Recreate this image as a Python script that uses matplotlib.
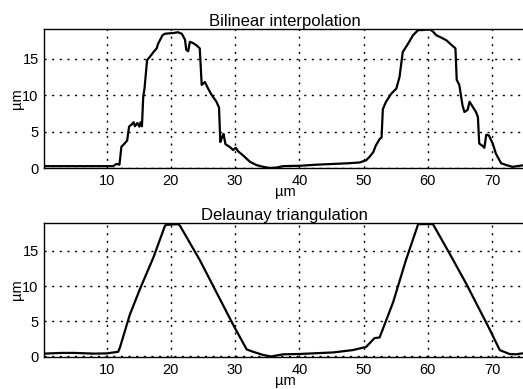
import matplotlib.pyplot as plt

plt.rcParams['font.family'] = ['Liberation Sans', 'DejaVu Sans']

# Bilinear interpolation profile (x in um, height in um)
bil_x = [0.3, 5.0, 11.0, 11.55, 12.0, 12.3, 12.7, 13.2, 13.5, 13.9, 14.2, 14.4, 14.8, 15.1,
         15.3, 15.5, 15.7, 15.9, 16.3, 16.7, 17.3, 17.8, 18.0, 18.7, 19.1, 20.4, 21.1, 21.7,
         22.2, 22.4, 22.7, 22.96, 23.5, 24.0, 24.5, 24.8, 25.3, 25.8, 26.3, 27.1, 27.5, 27.7,
         28.0, 28.2, 28.5, 29.2, 29.7, 30.1, 30.5, 31.2, 32.3, 33.3, 34.4, 35.4, 36.4, 37.5,
         40.1, 42.7, 45.3, 47.8, 49.4, 50.4, 50.9, 51.5, 51.9, 52.5, 52.8, 53.0, 53.5, 54.3,
         55.1, 55.6, 56.1, 56.9, 57.7, 58.5, 59.2, 60.3, 60.8, 61.3, 61.8, 62.9, 63.9, 64.3,
         64.5, 64.9, 65.4, 65.7, 66.2, 66.5, 67.0, 67.5, 67.8, 68.0, 68.6, 68.8, 69.1, 69.5,
         70.1, 70.6, 71.4, 72.2, 73.2, 74.7]
bil_y = [0.3, 0.3, 0.3, 0.6, 0.5, 2.95, 3.3, 3.8, 5.7, 6.0, 6.3, 5.75, 6.2, 5.7,
         6.3, 5.75, 9.8, 10.9, 14.8, 15.2, 15.9, 16.4, 17.0, 18.2, 18.4, 18.5, 18.6, 18.4,
         17.6, 16.2, 16.0, 17.3, 17.1, 16.8, 16.4, 11.4, 11.8, 10.9, 10.1, 9.1, 8.3, 3.6,
         4.3, 4.7, 3.3, 2.9, 2.5, 2.8, 2.3, 1.8, 0.9, 0.45, 0.2, 0.05, 0.1, 0.3,
         0.35, 0.5, 0.6, 0.7, 0.8, 1.1, 1.55, 2.2, 3.1, 4.0, 4.2, 8.1, 9.1, 10.2,
         10.9, 12.5, 15.9, 17.0, 18.2, 18.9, 18.9, 19.0, 18.7, 18.2, 18.0, 17.5, 16.7, 16.4,
         12.1, 11.4, 8.6, 7.7, 8.0, 9.1, 8.4, 7.7, 7.0, 3.4, 3.0, 2.8, 4.6, 4.5,
         3.4, 2.0, 0.7, 0.45, 0.2, 0.4]

# Delaunay triangulation profile
del_x = [0.3, 3.0, 5.0, 8.0, 10.0, 11.8, 12.1, 13.6, 15.2, 17.3, 19.1, 19.4, 21.1, 21.4,
         24.5, 27.1, 29.7, 31.8, 32.8, 34.4, 35.6, 37.5, 40.1, 45.3, 48.3, 50.4, 51.7, 52.5,
         54.6, 56.6, 58.5, 60.8, 63.4, 66.0, 69.6, 71.2, 72.7, 73.7, 74.7]
del_y = [0.4, 0.5, 0.5, 0.4, 0.43, 0.66, 1.35, 5.9, 9.6, 14.1, 18.6, 18.7, 18.8, 18.6,
         13.7, 9.1, 4.5, 1.0, 0.66, 0.2, 0.0, 0.3, 0.35, 0.57, 0.9, 1.35, 2.6, 2.7,
         7.7, 13.7, 18.8, 18.8, 14.6, 10.3, 3.9, 0.9, 0.35, 0.3, 0.43]

x_ticks = [10, 20, 30, 40, 50, 60, 70]
y_ticks = [0, 5, 10, 15]

fig = plt.figure(figsize=(5.23, 3.89), dpi=100)
ax1 = fig.add_axes([0.0847, 0.5673, 0.92, 0.3573])
ax2 = fig.add_axes([0.0847, 0.081, 0.92, 0.3465])

panels = [(ax1, bil_x, bil_y, 'Bilinear interpolation', (0, 19)),
          (ax2, del_x, del_y, 'Delaunay triangulation', (-0.15, 19))]
for ax, xs, ys, title, ylim in panels:
    ax.plot(xs, ys, color='black', linewidth=1.6)
    ax.set_xlim(0.3, 75.2)
    ax.set_ylim(*ylim)
    ax.set_xticks(x_ticks)
    ax.set_yticks(y_ticks)
    ax.grid(True, color='black', linestyle=(0, (1.5, 4)), linewidth=1.0)
    ax.tick_params(direction='in', length=0, labelsize=10.5, pad=4)
    ax.set_title(title, fontsize=12, pad=2)
    ax.set_xlabel('µm', fontsize=10.5, labelpad=-2)
    ax.set_ylabel('µm', fontsize=10.5, labelpad=-1)
    for sp in ax.spines.values():
        sp.set_linewidth(1.0)

fig.savefig('out.png', dpi=100)
